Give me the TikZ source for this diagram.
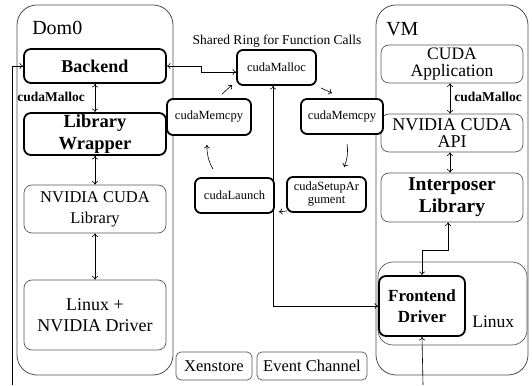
\documentclass[tikz,border=0pt]{standalone}
\usepackage{fontspec}
\setmainfont{Liberation Serif}
\usetikzlibrary{arrows.meta}
\tikzset{
  hostbox/.style={draw=black!70, line width=0.8pt, rounded corners=20pt},
  layer/.style={draw=black!65, line width=0.7pt, rounded corners=8pt, align=center, inner sep=0pt},
  core/.style={draw, line width=1.8pt, rounded corners=7pt, align=center, inner sep=0pt, fill=white},
  ringcall/.style={draw, line width=1.8pt, rounded corners=6pt, align=center, inner sep=0pt, fill=white,
    minimum width=79pt, minimum height=35pt, font=\fontsize{12.5}{13}\selectfont},
  tag/.style={anchor=west, inner sep=0pt},
}
\begin{document}
\begin{tikzpicture}[x=1pt, y=1pt, >={To[length=3.5pt,width=6pt]}, line width=0.6pt]
  \useasboundingbox (0,0) rectangle (532,385);
  % domains
  \node[hostbox, minimum width=156pt, minimum height=370pt] (dom0) at (95,195) {};
  \node[hostbox, minimum width=152pt, minimum height=370pt] (vm) at (452,195) {};
  \node[tag, font=\fontsize{20}{22}\selectfont] (dom0lbl) at (32,357) {Dom0};
  \node[tag, font=\fontsize{20}{22}\selectfont] (vmlbl) at (386,356) {VM};

  % Dom0 stack
  \node[core, minimum width=142pt, minimum height=34pt, font=\fontsize{18}{20}\selectfont\bfseries] (backend) at (95,319) {Backend};
  \node[core, minimum width=142pt, minimum height=42pt, font=\fontsize{18.5}{22}\selectfont\bfseries] (wrapper) at (95,251) {Library\\Wrapper};
  \node[layer, minimum width=142pt, minimum height=48pt, font=\fontsize{16.5}{21}\selectfont] (cudalib) at (95,176) {NVIDIA CUDA\\Library};
  \node[layer, minimum width=142pt, minimum height=70pt, font=\fontsize{18}{21}\selectfont] (driver) at (95,70) {Linux +\\NVIDIA Driver};
  \node[tag, font=\fontsize{13.5}{15}\selectfont\bfseries] (malloclblL) at (17,288) {cudaMalloc};

  % VM stack
  \node[layer, minimum width=142pt, minimum height=38pt, font=\fontsize{17.5}{17}\selectfont] (app) at (452,321) {CUDA\\Application};
  \node[layer, minimum width=142pt, minimum height=38pt, font=\fontsize{18}{17.5}\selectfont] (api) at (452,252) {NVIDIA CUDA\\API};
  \node[layer, minimum width=142pt, minimum height=49pt, font=\fontsize{19.5}{22}\selectfont\bfseries] (interposer) at (452,187.5) {Interposer\\Library};
  \node[layer, rounded corners=15pt, minimum width=149pt, minimum height=83pt] (linuxvm) at (452.5,81.5) {};
  \node[core, minimum width=86pt, minimum height=60pt, font=\fontsize{17}{21}\selectfont\bfseries] (frontend) at (422,79) {Frontend\\Driver};
  \node[tag, font=\fontsize{17.5}{20}\selectfont] (linuxlbl) at (472,63) {Linux};
  \node[tag, font=\fontsize{13.5}{15}\selectfont\bfseries] (malloclblR) at (454,288) {cudaMalloc};

  % shared ring
  \node[font=\fontsize{13.5}{15}\selectfont] (ringtitle) at (277,344) {Shared Ring for Function Calls};
  \node[ringcall] (malloc) at (276.5,317.5) {cudaMalloc};
  \node[ringcall, minimum width=84pt, minimum height=36pt] (memcpyL) at (209,268) {cudaMemcpy};
  \node[ringcall, minimum width=82pt] (memcpyR) at (342,268.5) {cudaMemcpy};
  \node[ringcall] (launch) at (234.5,189.5) {cudaLaunch};
  \node[ringcall] (setup) at (326.5,190.5) {cudaSetupAr\\gument};

  \node[layer, rounded corners=5pt, minimum width=76pt, minimum height=28pt, font=\fontsize{16.5}{18}\selectfont] (xenstore) at (214,19) {Xenstore};
  \node[layer, rounded corners=5pt, minimum width=110pt, minimum height=28pt, font=\fontsize{16.5}{18}\selectfont] (evtchn) at (312,19) {Event Channel};

  % connectors
  \draw[<->] (backend) -- (wrapper);
  \draw[<->] (wrapper) -- (cudalib);
  \draw[<->] (cudalib) -- (driver);
  \draw[<->] ([xshift=-2pt]app.south) -- ([xshift=-2pt]api.north);
  \draw[<->] ([xshift=-2pt]api.south) -- ([xshift=-2pt]interposer.north);
  \draw[<->] ([xshift=-4pt]interposer.south) -- ++(0,-28) -| (frontend.north);
  \draw[<->] (backend.east) -- ++(34,0) |- ([yshift=-4.5pt]malloc.west);
  \draw[<->] ([xshift=-3.5pt]malloc.south) |- (frontend.west);
  \coordinate (dom0foot) at (12,0);
  \coordinate (vmfoot) at (423,0);
  \draw[->] (dom0foot) |- (backend.west);
  \draw[->] (vmfoot) -- (frontend.south);

  % ring order
  \draw[->] ([shift={(13,4)}]memcpyL.north) -- ([shift={(-4,1)}]malloc.south west);
  \draw[->] ([shift={(4,-2)}]malloc.south east) -- ([shift={(-10,5)}]memcpyR.north);
  \draw[->] ([shift={(5,-9)}]memcpyR.south) to[bend left=15] ([shift={(17.5,9)}]setup.north);
  \draw[->] ([shift={(1,2)}]setup.south west) -- ([shift={(4,2)}]launch.south east);
  \draw[->] ([shift={(-21.5,8)}]launch.north) to[bend left=15] ([shift={(-2,-9)}]memcpyL.south);
\end{tikzpicture}
\end{document}
